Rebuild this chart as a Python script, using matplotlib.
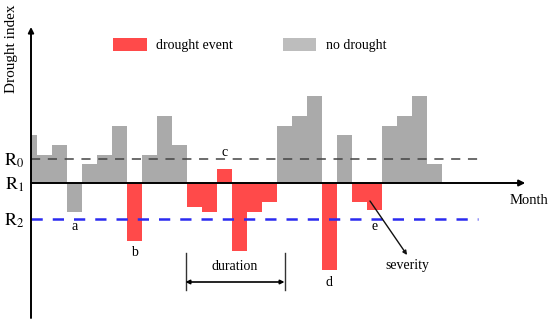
import matplotlib
matplotlib.use('Agg')
import matplotlib.pyplot as plt
from matplotlib.patches import Patch
import numpy as np

plt.rcParams['font.family'] = ['Liberation Serif', 'DejaVu Serif']
plt.rcParams['mathtext.fontset'] = 'stix'

# monthly drought index values (relative to R1 = 0)
months = np.arange(1, 29)
values = [4.8, 2.8, 3.8, -2.9, 1.9, 2.8, 5.7, -5.8, 2.8, 6.7, 3.8, -2.4, -2.9, 1.4,
          -6.8, -2.9, -1.9, 5.7, 6.7, 8.7, -8.7, 4.8, -1.9, -2.7, 5.7, 6.7, 8.7, 1.9]
drought = [0, 0, 0, 0, 0, 0, 0, 1, 0, 0, 0, 1, 1, 1,
           1, 1, 1, 0, 0, 0, 1, 0, 1, 1, 0, 0, 0, 0]
thresholds = [2.4, 0.0, -3.6]
threshold_labels = [r'$\mathrm{R}_0$', r'$\mathrm{R}_1$', r'$\mathrm{R}_2$']
event_labels = {4: 'a', 8: 'b', 14: 'c', 21: 'd', 24: 'e'}

red = '#ff4a4a'
grey = '#aaaaaa'

fig = plt.figure(figsize=(5.5, 3.26), dpi=100)
ax = fig.add_axes([31 / 550, 8 / 326, 519 / 550, 291 / 326])
ax.set_xlim(1.1, 35.7)
ax.set_ylim(-13.5, 15.6)

colors = [red if d else grey for d in drought]
ax.bar(months, values, width=1.0, color=colors, linewidth=0, zorder=2)

# threshold lines
ax.plot([1.1, 30.9], [thresholds[0]] * 2, color='#444444', lw=1.1,
        dashes=(6, 5), zorder=3)
ax.plot([1.1, 30.9], [thresholds[2]] * 2, color='#2b2bf0', lw=1.8,
        dashes=(4.5, 4), zorder=3)
ax.annotate('', xy=(34.05, 0), xytext=(1.1, 0),
            arrowprops=dict(arrowstyle='-|>', color='black', lw=1.4,
                            mutation_scale=9, shrinkA=0, shrinkB=0), zorder=4)
ax.annotate('', xy=(0, 1), xytext=(0, 0), xycoords='axes fraction',
            arrowprops=dict(arrowstyle='-|>', color='black', lw=1.4,
                            mutation_scale=8, shrinkA=0, shrinkB=0), zorder=4)

for s in ax.spines.values():
    s.set_visible(False)
ax.set_xticks([])
ax.set_yticks(thresholds)
ax.set_yticklabels(threshold_labels, fontsize=13)
ax.tick_params(axis='y', length=0, pad=5)

# event letters
for m, lab in event_labels.items():
    v = values[m - 1]
    y = v + 1.7 if v > 0 else v - 1.2
    if lab == 'a' or lab == 'e':
        y = -4.4
    ax.text(m, y, lab, ha='center', va='center', fontsize=10)

# duration marker
for xx in [11.4, 18.0]:
    ax.plot([xx, xx], [-7.0, -10.7], color='#333333', lw=1.0)
ax.annotate('', xy=(18.0, -9.9), xytext=(11.4, -9.9),
            arrowprops=dict(arrowstyle='<|-|>', color='black', lw=1.2,
                            mutation_scale=6, shrinkA=0, shrinkB=0))
ax.text(14.7, -8.4, 'duration', ha='center', va='center', fontsize=10)

# severity
ax.annotate('', xy=(26.17, -7.2), xytext=(23.7, -1.8),
            arrowprops=dict(arrowstyle='-|>', color='#111111', lw=1.0,
                            mutation_scale=6, shrinkA=0, shrinkB=0))
ax.text(26.17, -8.3, 'severity', ha='center', va='center', fontsize=10)

fig.text(548 / 550, 1 - 200 / 326, 'Month', ha='right', va='center', fontsize=10.5)
fig.text(12 / 550, 1 - 49 / 326, 'Drought index', rotation=90,
         ha='center', va='center', fontsize=11)

handles = [Patch(facecolor=red, edgecolor='none'),
           Patch(facecolor='#bdbdbd', edgecolor='none')]
fig.legend(handles, ['drought event', 'no drought'], ncol=2, frameon=False,
           loc='center', bbox_to_anchor=(250 / 550, 1 - 45 / 326),
           fontsize=10, handlelength=2.4, handleheight=1.1,
           handletextpad=0.7, columnspacing=3.6)

fig.savefig('out.png', dpi=100)
